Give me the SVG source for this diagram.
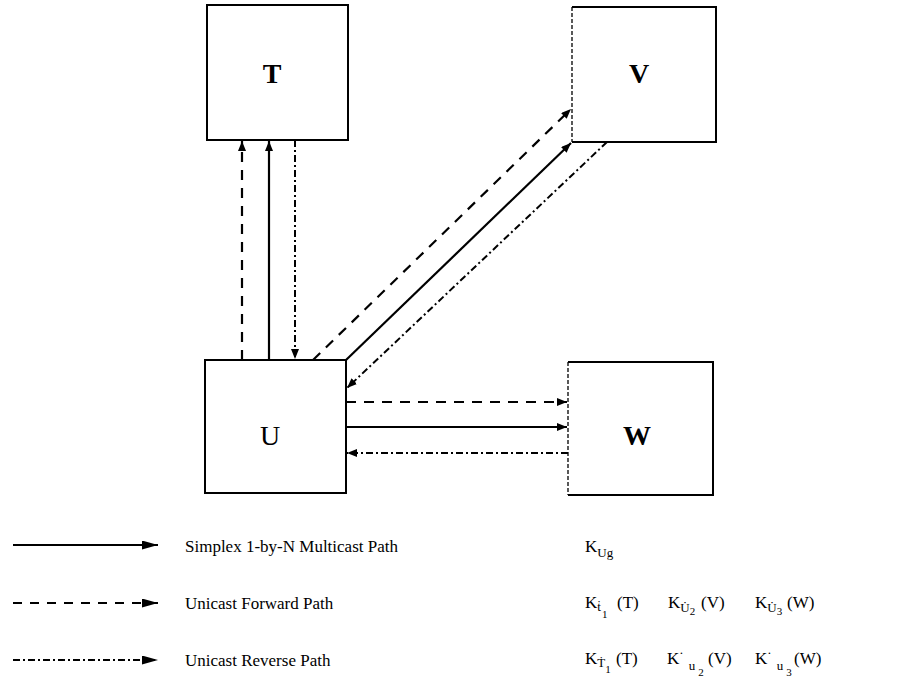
<svg xmlns="http://www.w3.org/2000/svg" width="920" height="691" viewBox="0 0 920 691">
<defs>
<style>
.box{fill:#fff;stroke:#000;stroke-width:2}
.edge{fill:none;stroke:#000;stroke-width:1.3;stroke-dasharray:4 2}
.lbl{font-family:"Liberation Serif","Times New Roman",serif;font-size:28px;font-weight:bold;text-anchor:middle;fill:#000}
.c{fill:none;stroke:#000;stroke-width:2.2}
.dsh{stroke-dasharray:10 8}
.dd{stroke-width:2;stroke-dasharray:7 3 2 3}
.leg{font-family:"Liberation Serif","Times New Roman",serif;font-size:17px;fill:#000}
.k{font-family:"Liberation Serif","DejaVu Serif","Times New Roman",serif;font-size:17px;fill:#000}
.s{font-size:13px}
.ss{font-size:11px}
</style>
<marker id="ah" viewBox="0 0 10 8" refX="10" refY="4" markerWidth="10" markerHeight="8" markerUnits="userSpaceOnUse" orient="auto">
<path d="M0,0 L10,4 L0,8 Z" fill="#000"/>
</marker>
<marker id="lh" viewBox="0 0 16 9" refX="16" refY="4.5" markerWidth="16" markerHeight="9" markerUnits="userSpaceOnUse" orient="auto">
<path d="M0,0 L16,4.5 L0,9 Z" fill="#000"/>
</marker>
</defs>
<rect width="920" height="691" fill="#fff"/>

<g id="node-T">
<rect class="box" x="207" y="5" width="141" height="135"/>
<text class="lbl" x="272" y="83">T</text>
</g>
<g id="node-V">
<path class="box" d="M572,7 H716 V142 H572"/>
<line class="edge" x1="572" y1="7" x2="572" y2="142"/>
<text class="lbl" x="639" y="83">V</text>
</g>
<g id="node-U">
<rect class="box" x="205" y="360" width="141" height="133"/>
<text class="lbl" x="270" y="445" style="font-weight:normal">U</text>
</g>
<g id="node-W">
<path class="box" d="M568,362 H713 V495 H568"/>
<line class="edge" x1="568" y1="362" x2="568" y2="495"/>
<text class="lbl" x="637" y="445">W</text>
</g>

<g id="connectors">
<line class="c dsh" x1="242" y1="360" x2="242" y2="141" marker-end="url(#ah)"/>
<line class="c" x1="269" y1="360" x2="269" y2="141" marker-end="url(#ah)"/>
<line class="c dd" x1="295" y1="140" x2="295" y2="359" marker-end="url(#ah)"/>
<line class="c dsh" x1="313" y1="360" x2="571" y2="109" marker-end="url(#ah)"/>
<line class="c" x1="346" y1="360" x2="571" y2="143" marker-end="url(#ah)"/>
<line class="c dd" x1="607" y1="142" x2="347" y2="388" marker-end="url(#ah)"/>
<line class="c dsh" x1="346" y1="402" x2="567" y2="402" marker-end="url(#ah)"/>
<line class="c" x1="346" y1="427" x2="567" y2="427" marker-end="url(#ah)"/>
<line class="c dd" x1="568" y1="453" x2="347" y2="453" marker-end="url(#ah)"/>
</g>

<g id="legend">
<line class="c" x1="13" y1="545" x2="158" y2="545" marker-end="url(#lh)"/>
<line class="c dsh" x1="13" y1="603" x2="158" y2="603" style="stroke-dasharray:9 8" marker-end="url(#lh)"/>
<line class="c dd" x1="13" y1="660" x2="158" y2="660" marker-end="url(#lh)"/>
<text class="leg" x="185" y="552">Simplex 1-by-N Multicast Path</text>
<text class="leg" x="185" y="609">Unicast Forward Path</text>
<text class="leg" x="185" y="666">Unicast Reverse Path</text>
</g>

<g id="keys">
<text class="k" x="585" y="552">K<tspan class="s" dy="5">Ug</tspan></text>

<text class="k" x="585" y="608">K<tspan class="s" dy="3">ṫ</tspan><tspan class="ss" dx="1" dy="7">1</tspan></text>
<text class="k" x="617" y="608">(T)</text>
<text class="k" x="668" y="608">K<tspan class="s" dy="4">U̇</tspan><tspan class="ss" dy="3">2</tspan></text>
<text class="k" x="701" y="608">(V)</text>
<text class="k" x="755" y="608">K<tspan class="s" dy="4">U̇</tspan><tspan class="ss" dy="3">3</tspan></text>
<text class="k" x="787" y="608">(W)</text>

<text class="k" x="585" y="664">K<tspan class="s" dy="3">Ṫ</tspan><tspan class="ss" dy="6">1</tspan></text>
<text class="k" x="616" y="664">(T)</text>
<text class="k" x="667" y="664">K<tspan class="s" dy="-7">·</tspan><tspan class="s" dx="5" dy="13">u</tspan><tspan class="ss" dx="3" dy="6">2</tspan></text>
<text class="k" x="708" y="664">(V)</text>
<text class="k" x="755" y="664">K<tspan class="s" dy="-7">·</tspan><tspan class="s" dx="5" dy="13">u</tspan><tspan class="ss" dx="3" dy="6">3</tspan></text>
<text class="k" x="794" y="664">(W)</text>
</g>
</svg>
